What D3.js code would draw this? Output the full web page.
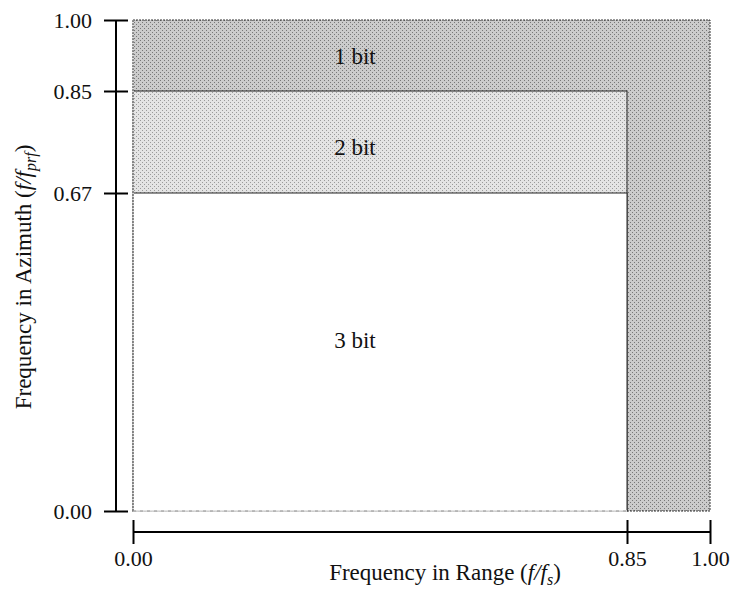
<!DOCTYPE html>
<html>
<head>
<meta charset="utf-8">
<script src="https://cdn.jsdelivr.net/npm/d3@7"></script>
<style>
  body { margin: 0; background: #fff; }
  svg { display: block; font-family: "Liberation Serif", "DejaVu Serif", serif; }
  .axis path, .axis line { stroke: #000; stroke-width: 2; }
  .axis text { font-size: 22px; fill: #111; font-family: "Liberation Serif", serif; }
</style>
</head>
<body>
<svg width="734" height="590"></svg>
<script>
// regions: quantisation bits allowed up to (range freq, azimuth freq)
const bitLabels = ['1 bit', '2 bit', '3 bit']
const rangeLimits = [1.00, 0.85, 0.85]
const azimuthLimits = [1.00, 0.85, 0.67]
const xTicks = [0, 0.85, 1]
const yTicks = [0, 0.67, 0.85, 1]

const svg = d3.select('svg')

// the original figure is not drawn to scale, so piecewise scales
const x = d3.scaleLinear().domain([0, 0.85, 1]).range([133, 627, 710])
const y = d3.scaleLinear().domain([0, 0.67, 0.85, 1]).range([511, 193, 91, 20])

const fills = ['#c2c2c2', '#dedede', '#ffffff']

// stipple textures, roughly like the scanned halftone
const defs = svg.append('defs')
function stipple(id, base, dot) {
  const p = defs.append('pattern')
    .attr('id', id)
    .attr('width', 4).attr('height', 4)
    .attr('patternUnits', 'userSpaceOnUse')
  p.append('rect').attr('width', 4).attr('height', 4).attr('fill', base)
  p.append('rect').attr('x', 0).attr('y', 0).attr('width', 1).attr('height', 1).attr('fill', dot)
  p.append('rect').attr('x', 2).attr('y', 2).attr('width', 1).attr('height', 1).attr('fill', dot)
}
stipple('s1', '#cbcbcb', '#777')
stipple('s2', '#e4e4e4', '#9a9a9a')

const regions = bitLabels.map((label, i) => ({
  label, fx: rangeLimits[i], fy: azimuthLimits[i], fill: fills[i]
}))

svg.append('g').selectAll('rect')
  .data(regions)
  .join('rect')
    .attr('x', x(0))
    .attr('y', d => y(d.fy))
    .attr('width', d => x(d.fx) - x(0))
    .attr('height', d => y(0) - y(d.fy))
    .attr('fill', (d, i) => i === 0 ? 'url(#s1)' : i === 1 ? 'url(#s2)' : d.fill)
    .attr('stroke', (d, i) => i === 0 ? '#333' : '#222')
    .attr('stroke-width', 1)
    .attr('stroke-dasharray', (d, i) => i === 0 ? '2,1' : null)

// bottom and left edges of the plot area are dotted in the original
svg.append('line')
  .attr('x1', x(0)).attr('x2', x(0.85))
  .attr('y1', y(0)).attr('y2', y(0))
  .attr('stroke', '#fff').attr('stroke-width', 1.5)
svg.append('line')
  .attr('x1', x(0)).attr('x2', x(0.85))
  .attr('y1', y(0)).attr('y2', y(0))
  .attr('stroke', '#999').attr('stroke-width', 1).attr('stroke-dasharray', '3,4')
svg.append('line')
  .attr('x1', x(0)).attr('x2', x(0))
  .attr('y1', y(1)).attr('y2', y(0))
  .attr('stroke', '#fff').attr('stroke-width', 1.5)
svg.append('line')
  .attr('x1', x(0)).attr('x2', x(0))
  .attr('y1', y(1)).attr('y2', y(0))
  .attr('stroke', '#333').attr('stroke-width', 1).attr('stroke-dasharray', '2,1')

// region labels
const labelY = [56, 147, 340]
svg.append('g').selectAll('text')
  .data(regions)
  .join('text')
    .attr('x', 355)
    .attr('y', (d, i) => labelY[i])
    .attr('text-anchor', 'middle')
    .attr('dominant-baseline', 'central')
    .attr('font-size', 23)
    .attr('fill', '#111')
    .text(d => d.label)

// axes, ticks cross the axis line
const fmt = d3.format('.2f')
const yAxis = svg.append('g')
  .attr('class', 'axis')
  .attr('transform', 'translate(116,0)')
  .call(d3.axisLeft(y).tickValues(yTicks).tickFormat(fmt).tickSizeOuter(0).tickSize(12).tickPadding(12))
yAxis.selectAll('.tick line').attr('x1', -12).attr('x2', 12)
yAxis.select('.domain').attr('d', 'M0,' + y(1) + 'V' + y(0))

const xAxis = svg.append('g')
  .attr('class', 'axis')
  .attr('transform', 'translate(0,532)')
  .call(d3.axisBottom(x).tickValues(xTicks).tickFormat(fmt).tickSizeOuter(0).tickSize(12).tickPadding(6))
xAxis.selectAll('.tick line').attr('y1', -12).attr('y2', 12)
xAxis.select('.domain').attr('d', 'M' + x(0) + ',0H' + x(1))

// axis titles
const xt = svg.append('text')
  .attr('x', 445).attr('y', 580)
  .attr('text-anchor', 'middle')
  .attr('font-size', 23).attr('fill', '#111')
xt.append('tspan').text('Frequency in Range (')
xt.append('tspan').attr('font-style', 'italic').text('f/f')
xt.append('tspan').attr('font-style', 'italic').attr('font-size', 16).attr('dy', 5).text('s')
xt.append('tspan').attr('dy', -5).text(')')

const yt = svg.append('text')
  .attr('transform', 'translate(31,277) rotate(-90)')
  .attr('text-anchor', 'middle')
  .attr('font-size', 23).attr('fill', '#111')
yt.append('tspan').text('Frequency in Azimuth (')
yt.append('tspan').attr('font-style', 'italic').text('f/f')
yt.append('tspan').attr('font-style', 'italic').attr('font-size', 16).attr('dy', 5).text('prf')
yt.append('tspan').attr('dy', -5).text(')')
</script>
</body>
</html>
